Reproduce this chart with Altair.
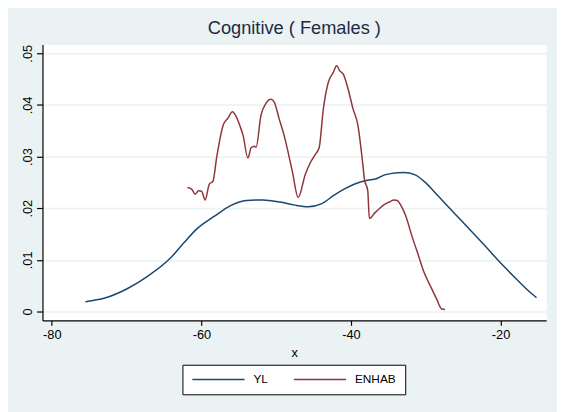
import altair as alt
import pandas as pd

# ---- data ----
yl_x = [-75.5, -72.9, -69.8, -67.2, -64.1, -62.4, -60.6, -58.2, -56.1, -54.0,
        -51.8, -49.5, -47.5, -45.7, -43.9, -42.3, -40.8, -39.5, -37.8, -36.6,
        -35.6, -34.7, -32.9, -31.5, -30.0, -29.0, -27.6, -25.1, -22.4, -19.6,
        -18.1, -15.8, -15.2]
yl_y = [0.0019, 0.0026, 0.0045, 0.0068, 0.0104, 0.0132, 0.0160, 0.0185, 0.0205, 0.0215,
        0.0216, 0.0212, 0.0206, 0.0203, 0.0209, 0.0225, 0.0238, 0.0247, 0.0254, 0.0257,
        0.0264, 0.0267, 0.0269, 0.0265, 0.0249, 0.0234, 0.0212, 0.0174, 0.0132, 0.0088,
        0.0066, 0.0034, 0.0027]

en_x = [-61.87, -61.3, -60.83, -60.36, -59.97, -59.5, -58.93, -58.46, -57.96, -57.08,
        -56.42, -55.85, -55.32, -54.89, -54.44, -53.78, -53.35, -52.91, -52.69, -52.03,
        -51.37, -50.71, -50.28, -49.62, -48.96, -47.85, -47.06, -46.1, -45.44, -44.78,
        -44.26, -43.69, -43.03, -42.37, -41.92, -41.49, -41.05, -40.39, -39.74, -39.08,
        -38.42, -38.2, -37.76, -37.54, -36.88, -36.22, -35.56, -34.9, -34.24, -33.8,
        -33.35, -32.7, -31.83, -30.95, -30.29, -29.41, -28.54, -27.88, -27.43]
en_y = [0.0240, 0.0237, 0.0227, 0.0234, 0.0233, 0.0216, 0.0247, 0.0252, 0.0298, 0.0361,
        0.0375, 0.0387, 0.0377, 0.0361, 0.0342, 0.0297, 0.0317, 0.0320, 0.0318, 0.0380,
        0.0403, 0.0411, 0.0406, 0.0374, 0.0342, 0.0272, 0.0221, 0.0266, 0.0288, 0.0304,
        0.0317, 0.0393, 0.0444, 0.0463, 0.0476, 0.0466, 0.0460, 0.0431, 0.0393, 0.0361,
        0.0285, 0.0256, 0.0234, 0.0180, 0.0190, 0.0199, 0.0207, 0.0212, 0.0216, 0.0215,
        0.0206, 0.0186, 0.0145, 0.0107, 0.0078, 0.0050, 0.0024, 0.0005, 0.0004]

series = ["YL", "ENHAB"]
colors = ["#1A476F", "#90353B"]
x_ticks = [-80, -60, -40, -20]
y_ticks = [0, 0.01, 0.02, 0.03, 0.04, 0.05]

df_yl = pd.DataFrame({"x": yl_x, "y": yl_y, "series": "YL"})
df_en = pd.DataFrame({"x": en_x, "y": en_y, "series": "ENHAB"})

FONT = "Liberation Sans"

xenc = alt.X("x:Q", title="x",
             scale=alt.Scale(domain=[-81.24, -13.91], nice=False, zero=False),
             axis=alt.Axis(values=x_ticks, grid=False, tickSize=5, labelPadding=3,
                           labelFontSize=13, titleFontSize=13, titlePadding=6,
                           titleFontWeight="normal",
                           labelExpr="'-' + abs(datum.value)"))
yenc = alt.Y("y:Q", title=None,
             scale=alt.Scale(domain=[-0.00172, 0.05172], nice=False, zero=False),
             axis=alt.Axis(values=y_ticks, grid=True, gridColor="#EAF2F3", gridWidth=1.5,
                           tickSize=6, labelPadding=5, labelAngle=270,
                           labelAlign="center", labelBaseline="alphabetic",
                           labelFontSize=13,
                           labelExpr="datum.value == 0 ? '0' : replace(format(datum.value, '.2f'), '0.', '.')"))
cenc = alt.Color("series:N",
                 scale=alt.Scale(domain=series, range=colors),
                 legend=alt.Legend(title=None, orient="none", legendX=142, legendY=325,
                                   direction="horizontal", columns=2,
                                   symbolType="stroke", symbolSize=2809, clipHeight=12,
                                   symbolStrokeWidth=1.5, labelFontSize=12,
                                   labelOffset=8, columnPadding=25, padding=9,
                                   strokeColor="black", fillColor="white",
                                   labelColor="black", labelFont=FONT))

line_yl = alt.Chart(df_yl).mark_line(strokeWidth=1.5, interpolate="monotone").encode(
    x=xenc, y=yenc, color=cenc)
line_en = alt.Chart(df_en).mark_line(strokeWidth=1.5, interpolate="monotone").encode(
    x=xenc, y=yenc, color=cenc)

chart = alt.layer(line_yl, line_en).properties(
    width=511, height=280,
    autosize=alt.AutoSizeParams(type="none"),
    padding={"left": 35, "top": 34, "right": 11, "bottom": 90},
    background="#EAF2F3",
    title=alt.TitleParams("Cognitive ( Females )", fontSize=18.5, font=FONT,
                          fontWeight="normal", color="#1C2A45", anchor="middle",
                          frame="group", offset=6, baseline="alphabetic", dy=14),
).configure_view(fill="white", stroke="transparent").configure_axis(
    domainColor="black", domainWidth=1.2, tickColor="black", tickWidth=1.2,
    labelColor="black", titleColor="black", labelFont=FONT, titleFont=FONT,
)

chart.save("out.html", embed_options={"renderer": "svg", "actions": False})
